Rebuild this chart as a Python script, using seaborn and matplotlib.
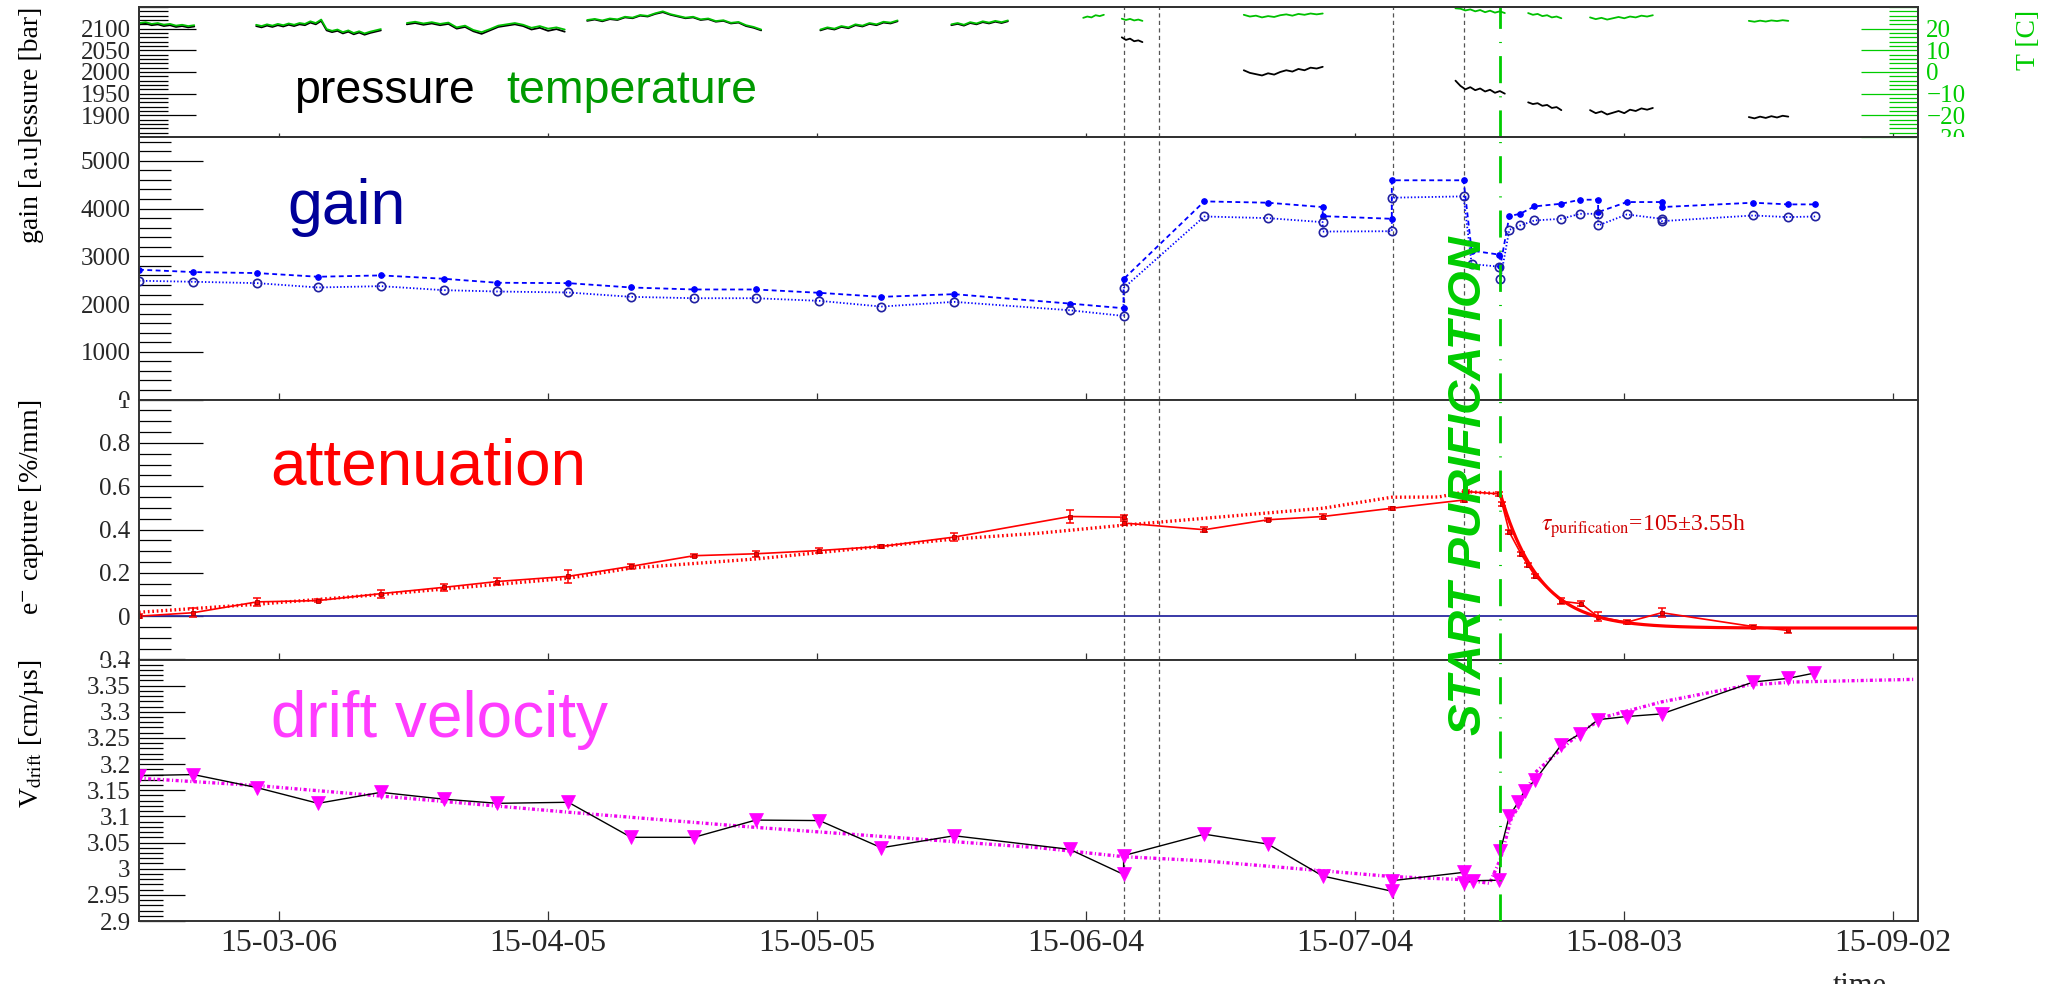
import numpy as np
import pandas as pd
import matplotlib
matplotlib.use("Agg")
import matplotlib.pyplot as plt
import matplotlib.dates as mdates
from matplotlib.ticker import MultipleLocator, FixedLocator, FixedFormatter
from matplotlib.transforms import Bbox, TransformedBbox
import seaborn as sns

# ---------------------------------------------------------------------------
# Data.  Times are fractional day-of-year 2015 (0.0 = 2015-01-01 00:00).
# ---------------------------------------------------------------------------
gain_doy = [48.44, 54.5, 61.6, 68.4, 75.4, 82.4, 88.4, 96.3, 103.3, 110.3, 117.2,
            124.3, 131.2, 139.3, 152.2, 158.2, 158.2, 167.2, 174.3, 180.4, 180.4,
            188.1, 188.1, 196.1, 197.0, 200.1, 200.2, 201.2, 202.4, 204.0, 207.0,
            209.1, 211.1, 211.1, 214.3, 218.2, 218.2, 228.4, 232.3, 235.3]
gain_dashed = [2720, 2670, 2649, 2572, 2600, 2530, 2446, 2438, 2347, 2305, 2305,
               2235, 2151, 2207, 2010, 1912, 2523, 4151, 4123, 4032, 3842,
               3786, 4593, 4593, 3119, 3035, 2800, 3842, 3891, 4046, 4102,
               4186, 4186, 3926, 4137, 4137, 4032, 4123, 4088, 4088]
gain_dotted = [2488, 2467, 2438, 2347, 2375, 2291, 2263, 2242, 2151, 2122, 2122,
               2067, 1947, 2046, 1870, 1751, 2333, 3835, 3800, 3716, 3519,
               3526, 4228, 4256, 2838, 2783, 2523, 3554, 3646, 3751, 3786,
               3891, 3891, 3646, 3877, 3786, 3737, 3856, 3821, 3835]

att_doy = [48.44, 54.5, 61.6, 68.4, 75.4, 82.4, 88.4, 96.3, 103.3, 110.3, 117.2,
           124.3, 131.2, 139.3, 152.2, 158.2, 158.2, 167.2, 174.3, 180.4, 188.1,
           196.1, 196.4, 200.1, 200.4, 201.2, 202.5, 203.3, 204.1, 207.0, 209.2,
           211.1, 214.3, 218.2, 228.4, 232.3]
att_val = [0.000, 0.016, 0.066, 0.072, 0.104, 0.133, 0.160, 0.184, 0.230, 0.279, 0.288,
           0.303, 0.322, 0.365, 0.460, 0.457, 0.430, 0.399, 0.445, 0.460, 0.498,
           0.536, 0.575, 0.564, 0.518, 0.388, 0.288, 0.235, 0.184, 0.069, 0.058,
           -0.003, -0.028, 0.016, -0.048, -0.066]
att_err = [0.008, 0.020, 0.018, 0.008, 0.018, 0.016, 0.014, 0.030, 0.012, 0.006, 0.013,
           0.012, 0.006, 0.020, 0.030, 0.010, 0.008, 0.012, 0.006, 0.010, 0.008,
           0.010, 0.006, 0.008, 0.010, 0.010, 0.010, 0.010, 0.010, 0.015, 0.012,
           0.020, 0.010, 0.020, 0.008, 0.012]

att_trend_doy = [48.44, 61.6, 75.4, 96.3, 103.3, 117.2, 139.3, 148.8, 158.2, 180.4,
                 188.1, 193.3, 196.4, 200.1]
att_trend_val = [0.018, 0.055, 0.100, 0.175, 0.222, 0.264, 0.356, 0.383, 0.420, 0.498,
                 0.549, 0.550, 0.575, 0.565]

vd_doy = [48.44, 54.5, 61.6, 68.4, 75.4, 82.4, 88.4, 96.3, 103.3, 110.3, 117.2,
          124.3, 131.2, 139.3, 152.2, 158.2, 158.2, 167.2, 174.3, 180.4, 188.1,
          188.1, 196.1, 196.1, 197.1, 200.1, 200.2, 201.2, 202.2, 202.9, 204.1,
          207.0, 209.1, 211.1, 214.3, 218.2, 228.4, 232.3, 235.2]
vd_val = [3.178, 3.180, 3.155, 3.125, 3.146, 3.133, 3.125, 3.127, 3.060, 3.060, 3.093,
          3.092, 3.040, 3.063, 3.037, 2.989, 3.025, 3.066, 3.047, 2.986, 2.957,
          2.977, 2.993, 2.972, 2.977, 2.978, 3.034, 3.101, 3.127, 3.149, 3.170,
          3.237, 3.258, 3.285, 3.291, 3.296, 3.357, 3.364, 3.374]

vd_trend_doy = [48.44, 61.6, 75.4, 96.3, 117.2, 148.8, 158.2, 167.2, 180.4, 188.1,
                196.1, 199.0, 200.2, 201.4, 202.5, 204.1, 207.0, 209.2, 211.8,
                218.2, 227.8, 232.9, 246.3]
vd_trend_val = [3.173, 3.159, 3.139, 3.108, 3.079, 3.040, 3.023, 3.015, 2.996, 2.985,
                2.979, 2.972, 3.018, 3.095, 3.127, 3.184, 3.229, 3.261, 3.290,
                3.319, 3.351, 3.357, 3.362]

# slow-control readings, one block per data-taking period: (first doy, last doy, samples)
pressure_blocks = [
    (48.5, 54.6, [2110, 2112, 2108, 2110, 2106, 2108, 2104, 2106, 2103, 2105]),
    (61.5, 75.4, [2106, 2103, 2107, 2104, 2108, 2105, 2109, 2106, 2110, 2108, 2114, 2110,
                  2118, 2096, 2092, 2095, 2089, 2093, 2087, 2091, 2086, 2090, 2093, 2096]),
    (78.3, 95.9, [2110, 2113, 2109, 2112, 2108, 2111, 2100, 2104, 2094, 2088, 2096, 2104,
                  2107, 2110, 2106, 2098, 2102, 2095, 2099, 2093]),
    (98.4, 117.8, [2118, 2121, 2117, 2122, 2120, 2126, 2124, 2130, 2128, 2134, 2138, 2132,
                   2128, 2124, 2126, 2120, 2122, 2116, 2118, 2112, 2114, 2106, 2102, 2096]),
    (124.4, 133.0, [2096, 2101, 2098, 2104, 2101, 2108, 2105, 2111, 2108, 2114, 2112, 2117]),
    (139.0, 145.3, [2108, 2111, 2107, 2113, 2110, 2115, 2112, 2116, 2113, 2117]),
    (158.0, 160.3, [2080, 2074, 2077, 2071, 2073, 2069]),
    (171.6, 180.4, [2004, 1998, 1995, 1992, 1997, 1994, 2000, 2004, 2001, 2007, 2004, 2010,
                    2008, 2012]),
    (195.2, 200.7, [1980, 1968, 1960, 1965, 1958, 1962, 1955, 1959, 1952, 1956, 1950]),
    (203.3, 207.0, [1930, 1926, 1928, 1922, 1924, 1917, 1919, 1912]),
    (210.2, 217.2, [1912, 1905, 1909, 1902, 1906, 1910, 1905, 1913, 1910, 1916, 1913, 1917]),
    (227.9, 232.3, [1896, 1893, 1897, 1894, 1898, 1895, 1899, 1897]),
]
temperature_blocks = [
    (48.5, 54.6, [22.6, 23.0, 22.2, 22.6, 21.8, 22.2, 21.4, 21.8, 21.2, 21.6]),
    (61.5, 75.4, [21.8, 21.2, 22.0, 21.4, 22.2, 21.6, 22.4, 21.8, 22.6, 22.2, 23.4, 22.6,
                  24.2, 19.8, 19.0, 19.6, 18.4, 19.2, 18.0, 18.8, 17.8, 18.6, 19.2, 19.8]),
    (78.3, 95.9, [22.6, 23.2, 22.4, 23.0, 22.2, 22.8, 20.6, 21.4, 19.4, 18.4, 19.8, 21.4,
                  22.0, 22.6, 21.8, 20.4, 21.2, 20.0, 20.6, 19.6]),
    (98.4, 117.8, [24.0, 24.5, 23.8, 24.7, 24.3, 25.5, 25.1, 26.3, 25.9, 27.1, 28.0, 26.7,
                   25.9, 25.1, 25.5, 24.3, 24.7, 23.5, 23.9, 22.7, 23.1, 21.6, 20.8, 19.6]),
    (124.4, 133.0, [19.6, 20.6, 20.0, 21.2, 20.6, 22.0, 21.4, 22.6, 22.0, 23.2, 22.8, 23.8]),
    (139.0, 145.3, [22.0, 22.6, 21.8, 23.0, 22.4, 23.4, 22.8, 23.6, 23.0, 23.8]),
    (153.7, 156.0, [25.0, 25.6, 25.2, 26.2, 25.8, 26.4]),
    (158.0, 160.3, [24.6, 24.0, 24.5, 23.8, 24.2, 23.6]),
    (171.6, 180.4, [26.4, 25.6, 26.0, 25.2, 25.8, 25.4, 26.2, 26.6, 26.0, 26.8, 26.4, 27.0,
                    26.6, 27.0]),
    (195.2, 200.7, [29.4, 29.2, 28.4, 28.9, 28.0, 28.6, 27.6, 28.3, 27.4, 28.0, 27.2]),
    (203.3, 207.0, [27.2, 26.4, 26.8, 25.8, 26.2, 25.2, 25.6, 24.8]),
    (210.2, 217.2, [25.2, 24.4, 25.0, 24.2, 24.8, 25.4, 24.8, 25.6, 25.2, 26.0, 25.6, 26.2]),
    (227.9, 232.3, [23.6, 23.2, 23.7, 23.3, 23.8, 23.5, 23.9, 23.6]),
]

event_doy = [158.25, 162.15, 188.2, 196.15]     # run changes (grey dashed)
purification_doy = 200.2                        # start of purification (green)
tau_hours, tau_err_hours = 105.0, 3.55          # fitted purification time constant
fit_amplitude, fit_offset = 0.62, -0.055        # fitted attenuation decay

x_range_doy = (48.44, 246.76)
date_ticks = ["2015-03-06", "2015-04-05", "2015-05-05", "2015-06-04",
              "2015-07-04", "2015-08-03", "2015-09-02"]

pressure_ticks = [1900, 1950, 2000, 2050, 2100]
temperature_ticks = [-30, -20, -10, 0, 10, 20]
temperature_labels = ["\u221230", "\u221220", "\u221210", "0", "10", "20"]
gain_ticks = [0, 1000, 2000, 3000, 4000, 5000]
att_ticks = [-0.2, 0.0, 0.2, 0.4, 0.6, 0.8, 1.0]
att_labels = ["-0.2", "0", "0.2", "0.4", "0.6", "0.8", "1"]
vd_ticks = [2.9, 2.95, 3.0, 3.05, 3.1, 3.15, 3.2, 3.25, 3.3, 3.35, 3.4]
vd_labels = ["2.9", "2.95", "3", "3.05", "3.1", "3.15", "3.2", "3.25", "3.3", "3.35", "3.4"]

EPOCH = pd.Timestamp("2015-01-01")


def to_time(doy):
    return EPOCH + pd.to_timedelta(np.asarray(doy, dtype=float), unit="D")


# ---------------------------------------------------------------------------
# Style
# ---------------------------------------------------------------------------
sns.set_theme(style="ticks")
plt.rcParams.update({
    "font.family": ["Liberation Serif", "DejaVu Serif"],
    "mathtext.fontset": "stix",
    "lines.scale_dashes": False,
    "axes.unicode_minus": False,
    "axes.facecolor": "white",
    "figure.facecolor": "white",
})

FIG_W, FIG_H = 2054, 984
fig = plt.figure(figsize=(FIG_W / 100, FIG_H / 100), dpi=100)


def fx(px):
    return px / FIG_W


def fy(py):
    return 1 - py / FIG_H


X0, X1 = 139, 1918


def panel(top, bottom, **kw):
    return fig.add_axes([fx(X0), fy(bottom), fx(X1 - X0), (bottom - top) / FIG_H], **kw)


ax_p = panel(7, 137)
ax_g = panel(137, 399.5, sharex=ax_p)
ax_a = panel(399.5, 659.5, sharex=ax_p)
ax_v = panel(659.5, 921, sharex=ax_p)
ax_t = ax_p.twinx()

GREEN = "#00cc00"
FRAME = "#333333"

# ---------------------------------------------------------------------------
# Pressure / temperature
# ---------------------------------------------------------------------------
for start, stop, vals in pressure_blocks:
    t = np.linspace(start, stop, len(vals))
    sns.lineplot(x=to_time(t), y=vals, ax=ax_p, color="black", linewidth=1.3,
                 estimator=None, sort=False, errorbar=None)
for start, stop, vals in temperature_blocks:
    t = np.linspace(start, stop, len(vals))
    sns.lineplot(x=to_time(t), y=vals, ax=ax_t, color="#00c000", linewidth=1.3,
                 estimator=None, sort=False, errorbar=None)

ax_p.set_ylim(1850, 2150)
ax_t.set_ylim(-30, 30)

# ---------------------------------------------------------------------------
# Gain
# ---------------------------------------------------------------------------
sns.lineplot(x=to_time(gain_doy), y=gain_dashed, ax=ax_g, color="blue", linewidth=1.3,
             linestyle=(0, (3.5, 2.5)), marker="o", markersize=4,
             markerfacecolor="blue", markeredgecolor="blue", markeredgewidth=0.8,
             estimator=None, sort=False, errorbar=None)
sns.lineplot(x=to_time(gain_doy), y=gain_dotted, ax=ax_g, color="blue", linewidth=1.3,
             linestyle=(0, (1, 1.5)), marker="o", markersize=6,
             markerfacecolor="none", markeredgecolor="#2020a0", markeredgewidth=1.2,
             estimator=None, sort=False, errorbar=None)
ax_g.set_ylim(0, 5500)

# ---------------------------------------------------------------------------
# Attenuation
# ---------------------------------------------------------------------------
ax_a.axhline(0, color="#2a2aa0", linewidth=1.3, zorder=1)
sns.lineplot(x=to_time(att_trend_doy), y=att_trend_val, ax=ax_a, color="red",
             linewidth=2.4, linestyle=(0, (1.2, 2.0)),
             estimator=None, sort=False, errorbar=None)
ax_a.errorbar(to_time(att_doy), att_val, yerr=att_err, fmt="none", ecolor="red",
              elinewidth=1.1, capsize=3, capthick=1.1)
sns.lineplot(x=to_time(att_doy), y=att_val, ax=ax_a, color="red", linewidth=1.2,
             marker="s", markersize=3.2, markerfacecolor="red",
             markeredgecolor="#aa0000", markeredgewidth=0.6,
             estimator=None, sort=False, errorbar=None)
fit_t = np.linspace(purification_doy, x_range_doy[1], 400)
fit_y = fit_offset + fit_amplitude * np.exp(-(fit_t - purification_doy) * 24.0 / tau_hours)
sns.lineplot(x=to_time(fit_t), y=fit_y, ax=ax_a, color="red", linewidth=2.3,
             estimator=None, sort=False, errorbar=None)
ax_a.set_ylim(-0.2, 1.0)

# ---------------------------------------------------------------------------
# Drift velocity
# ---------------------------------------------------------------------------
sns.lineplot(x=to_time(vd_trend_doy), y=vd_trend_val, ax=ax_v, color="#ee00ee",
             linewidth=2.4, linestyle=(0, (2.2, 1.8, 0.8, 1.8)),
             estimator=None, sort=False, errorbar=None)
sns.lineplot(x=to_time(vd_doy), y=vd_val, ax=ax_v, color="black", linewidth=1.0,
             marker="v", markersize=10, markerfacecolor="#ff00ff",
             markeredgecolor="#ff00ff", markeredgewidth=0.5,
             estimator=None, sort=False, errorbar=None)
ax_v.set_ylim(2.9, 3.4)

# ---------------------------------------------------------------------------
# Event markers on every panel
# ---------------------------------------------------------------------------
for ax in (ax_p, ax_g, ax_a, ax_v):
    for d in event_doy:
        ax.axvline(to_time([d])[0], color="#555555", linewidth=0.9,
                   linestyle=(0, (3.0, 2.4)), zorder=0.5)
    ax.axvline(to_time([purification_doy])[0], color=GREEN, linewidth=2.0,
               linestyle=(0, (19.5, 9.4, 0.8, 9.4)), zorder=3)

# ---------------------------------------------------------------------------
# Axes cosmetics
# ---------------------------------------------------------------------------
ax_p.set_xlim(to_time([x_range_doy[0]])[0], to_time([x_range_doy[1]])[0])
ax_v.xaxis.set_major_locator(FixedLocator(mdates.date2num(pd.to_datetime(date_ticks))))
ax_v.xaxis.set_major_formatter(mdates.DateFormatter("%y-%m-%d"))
ax_v.xaxis.set_minor_locator(FixedLocator([]))

x_tick_len = {ax_p: 3, ax_g: 5, ax_a: 5, ax_v: 7}
y_tick_len = {ax_p: (41, 21), ax_g: (46, 23), ax_a: (46, 23), ax_v: (33, 17)}

for ax in (ax_p, ax_g, ax_a, ax_v):
    ax.set_facecolor("white")
    ax.set_xlabel("")
    for s in ax.spines.values():
        s.set_color(FRAME)
        s.set_linewidth(1.4)
    ax.tick_params(axis="x", which="major", direction="in", length=x_tick_len[ax],
                   width=0.9, color=FRAME, bottom=True, top=False,
                   labelbottom=(ax is ax_v), labelsize=23, pad=6)
    maj, mnr = y_tick_len[ax]
    ax.tick_params(axis="y", which="major", direction="in", length=maj, width=0.9,
                   color="black", left=True, right=False, labelsize=18, pad=6)
    ax.tick_params(axis="y", which="minor", direction="in", length=mnr, width=0.9,
                   color="black", left=True, right=False)

ax_t.tick_params(axis="y", which="major", direction="in", length=41, width=0.9,
                 color=GREEN, labelcolor=GREEN, left=False, right=True,
                 labelleft=False, labelright=True, labelsize=18, pad=6)
ax_t.tick_params(axis="y", which="minor", direction="in", length=21, width=0.9,
                 color=GREEN, left=False, right=True)
ax_t.yaxis.set_major_locator(FixedLocator(temperature_ticks))
ax_t.yaxis.set_major_formatter(FixedFormatter(temperature_labels))
ax_t.yaxis.set_minor_locator(MultipleLocator(2))
for s in ax_t.spines.values():
    s.set_color(FRAME)
    s.set_linewidth(1.4)

ax_p.yaxis.set_major_locator(FixedLocator(pressure_ticks))
ax_p.yaxis.set_minor_locator(MultipleLocator(10))
ax_g.yaxis.set_major_locator(FixedLocator(gain_ticks))
ax_g.yaxis.set_minor_locator(MultipleLocator(200))
ax_a.yaxis.set_major_locator(FixedLocator(att_ticks))
ax_a.yaxis.set_major_formatter(FixedFormatter(att_labels))
ax_a.yaxis.set_minor_locator(MultipleLocator(0.05))
ax_v.yaxis.set_major_locator(FixedLocator(vd_ticks))
ax_v.yaxis.set_major_formatter(FixedFormatter(vd_labels))
ax_v.yaxis.set_minor_locator(MultipleLocator(0.01))

# axis titles, aligned to the top end of each axis
label_x = (31 - X0) / (X1 - X0)
for ax, txt in ((ax_p, "pressure [bar]"), (ax_g, "gain [a.u]"),
                (ax_a, "e$^{-}$ capture [%/mm]"),
                (ax_v, "V$_{\\mathrm{drift}}$ [cm/\u00b5s]")):
    ax.set_ylabel(txt, loc="top", fontsize=20, color="black")
    ax.yaxis.set_label_coords(label_x, 1.0)
    ax.yaxis.label.set_verticalalignment("center")
ax_t.set_ylabel("T [C]", loc="top", fontsize=20, color=GREEN)
ax_t.yaxis.set_label_coords((2029 - X0) / (X1 - X0), 0.98)
ax_t.yaxis.label.set_verticalalignment("center")

fig.text(fx(1833), fy(972), "time", fontsize=22, ha="left", va="top")

# ---------------------------------------------------------------------------
# Panel captions and annotations
# ---------------------------------------------------------------------------
SANS = ["Liberation Sans", "DejaVu Sans"]
fig.text(fx(294), fy(103), "pressure", fontsize=33.5, family=SANS, color="black",
         ha="left", va="baseline")
fig.text(fx(506), fy(103), "temperature", fontsize=33.5, family=SANS, color="#009900",
         ha="left", va="baseline")
fig.text(fx(287), fy(224), "gain", fontsize=45, family=SANS, color="#000099",
         ha="left", va="baseline")
fig.text(fx(270), fy(484), "attenuation", fontsize=46, family=SANS, color="#ff0000",
         ha="left", va="baseline")
fig.text(fx(271), fy(737), "drift velocity", fontsize=46, family=SANS, color="#ff3cff",
         ha="left", va="baseline")
fig.text(fx(1541), fy(531),
         r"$\tau_{\mathrm{purification}}$" + f"={tau_hours:g}\u00b1{tau_err_hours:g}h",
         fontsize=17, color="#d00000", ha="left", va="baseline")
fig.text(fx(1469), fy(486), "START PURIFICATION", rotation=90, fontsize=34,
         family=SANS, fontweight="bold", fontstyle="italic", color=GREEN,
         ha="center", va="center")

# ---------------------------------------------------------------------------
# Each panel keeps its own margin texts inside its horizontal band
# ---------------------------------------------------------------------------
fig.canvas.draw()
bands = {ax_p: (0, 137), ax_t: (0, 137), ax_g: (137, 399.5),
         ax_a: (399.5, 659.5), ax_v: (659.5, FIG_H)}
for ax, (top, bottom) in bands.items():
    bb = TransformedBbox(Bbox.from_extents(0, fy(bottom), 1, fy(top)), fig.transFigure)
    for tick in ax.yaxis.get_major_ticks():
        for lab in (tick.label1, tick.label2):
            lab.set_clip_box(bb)
            lab.set_clip_on(True)
    ax.yaxis.label.set_clip_box(bb)
    ax.yaxis.label.set_clip_on(True)

fig.savefig("out.png", dpi=100, facecolor="white")
